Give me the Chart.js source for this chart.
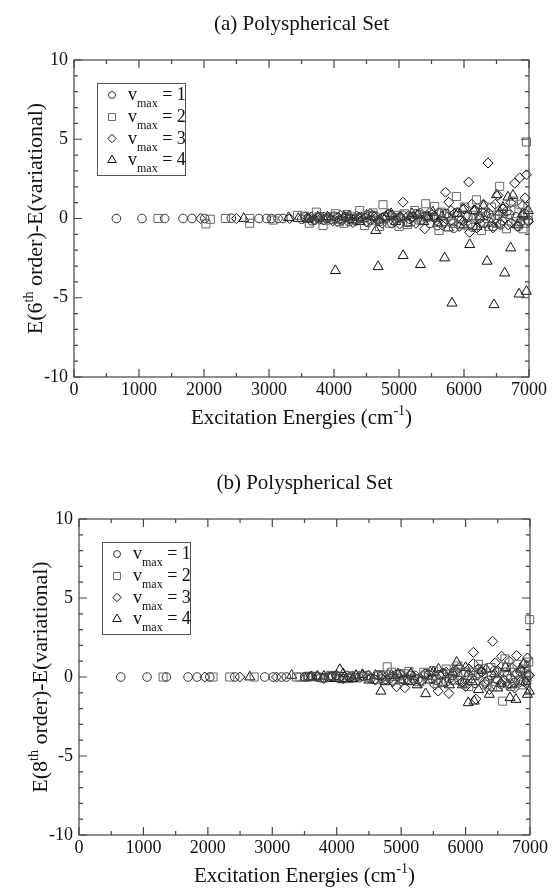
<!DOCTYPE html>
<html>
<head>
<meta charset="utf-8">
<script src="https://cdn.jsdelivr.net/npm/chart.js@4.4.0/dist/chart.umd.min.js"></script>
<style>
  html, body { margin: 0; padding: 0; background: #fff; }
  .panel { position: absolute; left: 0; width: 553px; height: 444px; }
</style>
</head>
<body>
<div class="panel" style="top:0"><canvas id="chartA" width="553" height="444"></canvas></div>
<div class="panel" style="top:444px"><canvas id="chartB" width="553" height="444"></canvas></div>
<script>
// tick labels
const xTickLabels = [0, 1000, 2000, 3000, 4000, 5000, 6000, 7000];
const yTickLabels = [-10, -5, 0, 5, 10];
const seriesNames = ['1', '2', '3', '4'];

// (a) 6th order - variational, [energy, difference]
const circlesA = [[652,0],[1046,0],[1395,0],[1677,0],[1815,0],[2011,0],[2421,0.02],[2846,0],[2960,0],[3037,0],[3138,0],[3215,0],
  [3503,-0.05],[3610,0.05],[3700,-0.1],[3790,0.1],[3880,0],[3960,-0.05],[4050,0.08],[4120,-0.1],[4190,0.1],[4260,0],[4340,-0.15],
  [4410,0.12],[4480,0.05],[4560,-0.1],[4640,0.15],[4700,-0.2],[4780,0.1],[4850,0.25],[4920,-0.15],[4990,0.05],[5060,0.2],[5130,-0.25],
  [5200,0.1],[5270,0.3],[5340,-0.1],[5410,0.15],[5480,-0.3],[5550,0.05],[5620,0.35],[5690,-0.2],[5760,0.1],[5842,-0.61],[5900,0.4],
  [5960,-0.1],[6030,0.2],[6100,-0.35],[6170,0.5],[6240,0],[6310,-0.3],[6380,0.3],[6450,-0.5],[6520,0.2],[6590,-0.15],[6660,0.45],
  [6730,-0.3],[6800,0.1],[6870,-0.2],[6940,0.3],[6990,-0.1],
  [3560,0.1],[3660,-0.15],[3750,0.05],[3840,-0.1],[4000,0.15],[4230,-0.2],[4380,0.05],[4520,-0.25],[4600,0.2],[4740,0.05],[4890,-0.3],
  [5020,0.1],[5170,-0.05],[5310,0.25],[5450,0.1],[5590,-0.45],[5730,0.3],[5810,-0.1],[6060,0.1],[6130,-0.55],[6280,0.35],[6420,0.05],
  [6560,-0.4],[6700,0.25],[6840,-0.5],[6910,0.15]];
const squaresA = [[1292,0],[2098,-0.05],[2030,-0.34],[2329,0],[2703,0],[2703,-0.3],[3062,-0.1],[3437,0.2],[3729,0.4],[3831,-0.44],
  [3950,0.1],[4080,-0.2],[4200,0.25],[4300,0],[4395,0.5],[4472,-0.44],[4524,0.19],[4640,-0.1],[4754,0.87],[4857,-0.3],[4950,0.2],
  [5129,-0.38],[5241,0.5],[5320,-0.1],[5411,0.93],[5480,0.1],[5549,0.76],[5615,-0.76],[5700,0.3],[5790,-0.2],[5883,1.39],[5950,-0.4],
  [6011,0.72],[6140,0.2],[6191,1.18],[6268,-0.76],[6330,0.4],[6421,0.72],[6500,-0.3],[6549,2.03],[6652,-0.65],[6720,0.5],[6800,-0.2],
  [6860,0.9],[6908,-0.65],[6960,4.83],[6985,0.2],
  [3550,0.15],[3620,-0.3],[3770,0.1],[3880,-0.1],[4020,0.3],[4150,-0.3],[4260,0.1],[4600,0.35],[4700,-0.5],[4800,0.1],[5000,-0.5],
  [5080,0.3],[5180,-0.2],[5380,0.1],[5650,0.4],[5830,-0.3],[6060,-0.45],[6230,0.1],[6380,-0.5],[6600,0.3],[6760,1.1],[6940,-0.3]];
const diamondsA = [[1949,0],[2498,0],[3318,0],[3595,0.05],[3700,-0.1],[3850,0.1],[3980,-0.15],[4100,0.2],[4230,-0.05],[4350,0.15],
  [4500,-0.2],[4620,0.1],[4740,-0.3],[4830,0.3],[4950,-0.1],[5062,1.03],[5150,0.2],[5260,-0.3],[5395,-0.65],[5480,0.4],[5600,-0.2],
  [5715,1.66],[5765,1.03],[5850,0.3],[5930,-0.5],[6000,0.6],[6072,2.3],[6088,-0.87],[6160,0.5],[6250,-0.3],[6300,0.9],[6370,3.5],
  [6446,-0.59],[6523,1.46],[6600,0.6],[6680,-0.4],[6780,2.23],[6857,2.57],[6900,0.8],[6960,2.76],[6990,-0.2],
  [3650,0.1],[3780,-0.05],[3920,0.05],[4050,-0.2],[4170,0.1],[4290,-0.25],[4420,0.05],[4560,0.3],[4680,-0.15],[4890,0.2],[5010,-0.35],
  [5210,0.1],[5330,0.35],[5540,0.15],[5660,-0.4],[5800,0.5],[5990,-0.2],[6120,0.9],[6200,-0.6],[6340,0.2],[6480,0.9],[6560,-0.3],
  [6720,1.0],[6820,-0.5],[6940,1.3]];
const trianglesA = [[2611,0],[3300,0.05],[3600,-0.05],[3900,0.1],[4022,-3.29],[4150,0.1],[4300,-0.1],[4500,0.2],[4642,-0.76],
  [4679,-3.04],[4800,0.1],[4950,-0.2],[5063,-2.34],[5200,0.3],[5330,-2.91],[5450,0.1],[5600,-0.3],[5703,-2.49],[5815,-5.34],
  [5900,0.3],[6000,-0.4],[6088,-1.65],[6150,0.5],[6250,0.1],[6354,-2.7],[6462,-5.44],[6500,1.5],[6550,0.4],[6626,-3.44],[6677,1.35],
  [6718,-1.86],[6754,1.46],[6847,-4.77],[6900,0.3],[6960,-4.6],
  [3450,0],[3750,0.1],[4080,-0.1],[4230,0.15],[4400,-0.2],[4570,0.1],[4720,-0.1],[4880,0.3],[5020,0.1],[5130,-0.3],[5280,0.2],
  [5380,-0.2],[5520,0.4],[5660,0.1],[5760,-0.6],[5980,0.6],[6200,-0.5],[6300,0.8],[6420,-0.3],[6600,0.7],[6820,-0.4],[6990,0.5]];

// (b) 8th order - variational
const circlesB = [[648,0],[1056,0],[1357,0],[1693,0],[1833,0],[2030,0],[2418,0],[2884,0],[3013,0],[3143,0],[3220,0],[3505,0],
  [3620,0.05],[3750,-0.05],[3870,0],[3990,0.1],[4100,-0.1],[4220,0.05],[4350,-0.05],[4470,0.1],[4580,-0.15],[4700,0.1],[4820,-0.1],
  [4930,0.15],[5040,-0.2],[5150,0.1],[5260,-0.15],[5370,0.2],[5480,-0.1],[5590,0.15],[5700,-0.3],[5800,0.1],[5900,-0.2],[6000,0.3],
  [6100,-0.1],[6200,0.2],[6300,-0.3],[6400,0.1],[6500,-0.2],[6600,0.3],[6700,-0.1],[6800,0.2],[6900,-0.3],[6980,0.1],
  [3560,0],[3690,0.05],[3810,-0.05],[3930,0.05],[4040,-0.1],[4160,0.1],[4290,-0.05],[4410,0.05],[4530,-0.1],[4640,0.1],[4760,-0.15],
  [4880,0.05],[4990,0.2],[5100,-0.15],[5210,0.1],[5320,-0.25],[5430,0.15],[5540,-0.2],[5650,0.25],[5750,-0.1],[5850,0.3],[5950,-0.35],
  [6050,0.1],[6150,-0.4],[6250,0.35],[6350,-0.2],[6450,0.4],[6550,-0.45],[6650,0.1],[6750,-0.35],[6850,0.35],[6950,-0.2]];
const squaresB = [[1305,0],[2081,0],[2340,0],[2718,0],[3376,0],[3428,0],[3700,0],[3900,0.1],[4100,-0.1],[4300,0.1],[4500,-0.05],
  [4650,0.15],[4784,0.64],[4900,-0.2],[5050,0.2],[5200,-0.1],[5350,0.3],[5500,0.4],[5620,-0.3],[5750,0.2],[5880,0.7],[5980,-0.4],
  [6100,0.3],[6200,0.8],[6265,0.52],[6330,-0.5],[6393,0.6],[6470,-0.3],[6575,-1.53],[6611,1.15],[6636,0.6],[6700,-0.6],[6760,0.3],
  [6850,-0.2],[6920,0.5],[6980,0.95],[6995,3.63],
  [3550,0.05],[3800,-0.05],[4000,0.05],[4200,-0.1],[4400,0.05],[4600,-0.15],[4720,0.05],[4850,0.3],[4980,-0.1],[5120,0.35],[5280,-0.3],
  [5420,0.1],[5560,-0.4],[5700,0.5],[5820,-0.2],[5930,0.3],[6050,-0.6],[6150,0.1],[6420,-0.6],[6520,0.3],[6800,0.8],[6880,-0.5],[6950,0.2]];
const diamondsB = [[1952,0],[2496,0],[3065,0],[3600,0.05],[3800,-0.1],[4000,0.1],[4200,-0.05],[4400,0.1],[4600,-0.2],[4800,0.15],
  [4929,-0.62],[5057,-0.68],[5150,0.2],[5300,-0.3],[5450,0.3],[5575,-0.89],[5650,0.2],[5742,-1.04],[5850,0.4],[5950,-0.3],[6050,0.5],
  [6121,1.56],[6121,0.85],[6160,-1.4],[6250,0.3],[6369,-0.8],[6420,2.26],[6500,0.4],[6559,1.31],[6650,-0.5],[6720,0.6],[6792,1.36],
  [6850,-0.3],[6911,0.83],[6960,1.2],[6990,0.1],
  [3700,0],[3900,0.05],[4100,-0.1],[4300,0.05],[4500,0.1],[4700,-0.1],[4870,-0.3],[5000,0.1],[5200,-0.2],[5380,0.2],[5520,-0.5],
  [5700,0.3],[5800,-0.2],[5900,0.6],[6000,-0.6],[6200,0.5],[6300,-0.4],[6460,0.9],[6600,-0.2],[6680,1.0],[6760,-0.7],[6880,0.4],[6940,-0.4]];
const trianglesB = [[2651,0],[3300,0.1],[3500,-0.05],[3700,0.05],[3900,-0.1],[4049,0.47],[4150,-0.1],[4300,0.1],[4500,-0.2],
  [4686,-0.9],[4850,0.1],[5000,-0.2],[5150,0.2],[5380,-1.06],[5500,0.3],[5650,-0.4],[5862,0.93],[5950,-0.5],[6041,-1.63],[6134,-1.53],
  [6250,0.4],[6369,-1.1],[6450,0.2],[6550,-0.4],[6689,-1.31],[6782,-1.42],[6850,0.5],[6930,-0.3],[6990,-0.9],
  [3600,0],[3800,0.05],[4000,-0.1],[4100,0.2],[4250,-0.1],[4400,0.15],[4600,0.1],[4750,-0.3],[4950,0.2],[5100,-0.3],[5250,-0.5],
  [5450,-0.2],[5580,0.5],[5750,-0.5],[5800,0.3],[6000,0.6],[6100,-0.3],[6200,-0.8],[6320,0.5],[6500,-0.7],[6620,0.6],[6720,-0.5],
  [6900,0.8],[6960,-1.1]];

const FONT = '"Liberation Serif", "Times New Roman", serif';
const AXIS = '#444';
const styles = [
  { pointStyle: 'circle', radius: 4.3, color: '#333' },
  { pointStyle: 'rect', radius: 5.7, color: '#666' },
  { pointStyle: 'rectRot', radius: 5, color: '#111' },
  { pointStyle: 'triangle', radius: 5.8, color: '#111' }
];

function toPts(arr) {
  return arr.map(p => ({ x: p[0], y: p[1] }));
}

// draw text pieces [text, size, dy] one after another
function richText(ctx, parts, x, y, align) {
  let w = 0;
  parts.forEach(p => { ctx.font = p[1] + 'px ' + FONT; w += ctx.measureText(p[0]).width; });
  let cx = align === 'center' ? x - w / 2 : x;
  parts.forEach(p => {
    ctx.font = p[1] + 'px ' + FONT;
    ctx.fillText(p[0], cx, y + (p[2] || 0));
    cx += ctx.measureText(p[0]).width;
  });
}

function framePlugin(cfg) {
  return {
    id: 'frame',
    afterDraw(chart) {
      const ctx = chart.ctx, a = chart.chartArea;
      const xs = chart.scales.x, ys = chart.scales.y;
      ctx.save();
      ctx.strokeStyle = AXIS;
      ctx.lineWidth = 1.2;
      ctx.strokeRect(a.left, a.top, a.right - a.left, a.bottom - a.top);

      ctx.beginPath();
      for (let v = 0; v <= 7000; v += 500) {
        const px = xs.getPixelForValue(v);
        const len = v % 1000 === 0 ? 8 : 4;
        ctx.moveTo(px, a.bottom); ctx.lineTo(px, a.bottom - len);
        ctx.moveTo(px, a.top); ctx.lineTo(px, a.top + len);
      }
      for (let v = -10; v <= 10; v += 1) {
        const py = ys.getPixelForValue(v);
        const len = v % 5 === 0 ? 8 : 4;
        ctx.moveTo(a.left, py); ctx.lineTo(a.left + len, py);
        ctx.moveTo(a.right, py); ctx.lineTo(a.right - len, py);
      }
      ctx.stroke();

      // tick labels
      ctx.fillStyle = '#111';
      ctx.font = '18px ' + FONT;
      ctx.textBaseline = 'middle';
      ctx.textAlign = 'center';
      xTickLabels.forEach(v => ctx.fillText(String(v), xs.getPixelForValue(v), a.bottom + 13));
      ctx.textAlign = 'right';
      yTickLabels.forEach(v => ctx.fillText(String(v), a.left - 6, ys.getPixelForValue(v)));

      // titles
      ctx.textAlign = 'left';
      ctx.textBaseline = 'alphabetic';
      const cx = (a.left + a.right) / 2;
      richText(ctx, [[cfg.title, 21, 0]], cx, a.top - 30, 'center');
      richText(ctx, [['Excitation Energies (cm', 21, 0], ['-1', 14, -9], [')', 21, 0]], cx, a.bottom + 47, 'center');

      ctx.save();
      ctx.translate(a.left - 39, (a.top + a.bottom) / 2);
      ctx.rotate(-Math.PI / 2);
      richText(ctx, [['E(' + cfg.order, 22, 0], ['th', 14, -9], [' order)-E(variational)', 22, 0]], 0, 7, 'center');
      ctx.restore();

      // legend
      const bx = a.left + 23, by = a.top + 23;
      ctx.strokeStyle = '#555';
      ctx.lineWidth = 1;
      ctx.strokeRect(bx + 0.5, by + 0.5, 88, 92);
      const rows = [12, 34, 55.5, 77];
      styles.forEach((s, i) => {
        ctx.strokeStyle = s.color;
        ctx.fillStyle = 'rgba(0,0,0,0)';
        ctx.lineWidth = 1;
        Chart.helpers.drawPoint(ctx, { pointStyle: s.pointStyle, radius: s.radius - 0.8, rotation: 0, borderWidth: 1 }, bx + 15, by + rows[i]);
        ctx.fillStyle = '#111';
        richText(ctx, [['v', 18, 0], ['max', 12, 7], [' = ' + seriesNames[i], 18, 0]], bx + 31, by + rows[i] + 5, 'left');
      });
      ctx.restore();
    }
  };
}

function makeChart(id, sets, pad, cfg) {
  new Chart(document.getElementById(id), {
    type: 'scatter',
    data: {
      datasets: sets.map((arr, i) => ({
        label: 'v_max = ' + seriesNames[i],
        data: toPts(arr),
        pointStyle: styles[i].pointStyle,
        pointRadius: styles[i].radius,
        pointHoverRadius: styles[i].radius,
        borderColor: styles[i].color,
        backgroundColor: 'rgba(0,0,0,0)',
        borderWidth: 1,
        clip: false
      }))
    },
    options: {
      responsive: false,
      animation: false,
      devicePixelRatio: 1,
      layout: { padding: pad },
      plugins: {
        legend: { display: false },
        tooltip: { enabled: false }
      },
      scales: {
        x: { type: 'linear', min: 0, max: 7000, display: false },
        y: { type: 'linear', min: -10, max: 10, display: false }
      }
    },
    plugins: [framePlugin(cfg)]
  });
}

makeChart('chartA', [circlesA, squaresA, diamondsA, trianglesA],
  { left: 74, right: 24, top: 60, bottom: 67 },
  { title: '(a) Polyspherical Set', order: '6' });
makeChart('chartB', [circlesB, squaresB, diamondsB, trianglesB],
  { left: 79, right: 23, top: 75, bottom: 53 },
  { title: '(b) Polyspherical Set', order: '8' });
</script>
</body>
</html>
